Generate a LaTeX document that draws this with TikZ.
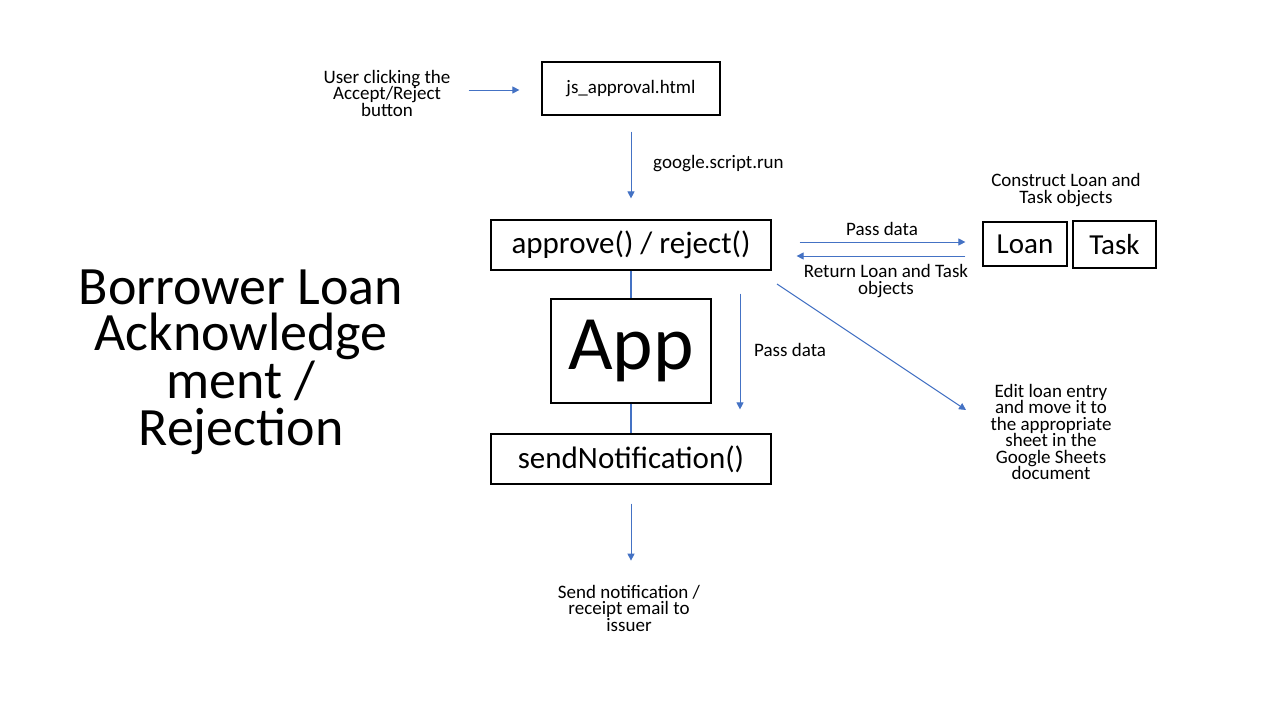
\documentclass[tikz,border=0pt]{standalone}
\usepackage{fontspec}
\setmainfont{Carlito}
\usetikzlibrary{arrows.meta}
\definecolor{conn}{HTML}{4472C4}
\tikzset{
  box/.style={draw=black, line width=1.2pt, inner sep=0pt, align=center},
  lbl/.style={inner sep=0pt, align=center, font=\fontsize{19}{16.5}\selectfont},
  arr/.style={draw=conn, line width=1pt, -{Triangle[width=7pt,length=7pt]}},
  link/.style={draw=conn, line width=2pt},
}
\begin{document}
\begin{tikzpicture}[x=1pt,y=-1pt]
\useasboundingbox (0,0) rectangle (1280,720);
\fill[white] (0,0) rectangle (1280,720);

% title
\node[inner sep=0pt, align=center, font=\fontsize{54}{46.7}\selectfont] (title) at (241,362)
  {Borrower Loan\\Acknowledge\\ment /\\Rejection};

% boxes
\node[box, minimum width=178pt, minimum height=53pt, font=\fontsize{19}{22}\selectfont] (js) at (631,88.5) {js\_approval.html};
\node[box, minimum width=280pt, minimum height=50pt, font=\fontsize{31}{36}\selectfont] (ar) at (631,245) {approve() / reject()};
\node[box, minimum width=160pt, minimum height=104pt, font=\fontsize{77}{80}\selectfont] (app) at (631,351) {App};
\node[box, minimum width=280pt, minimum height=50pt, font=\fontsize{31}{36}\selectfont] (sn) at (631,459) {sendNotification()};
\node[box, minimum width=84pt, minimum height=44pt, font=\fontsize{29}{34}\selectfont] (loan) at (1025,244) {Loan};
\node[box, minimum width=83pt, minimum height=47pt, font=\fontsize{29}{34}\selectfont] (task) at (1114.5,244.5) {Task};

% labels
\node[lbl] (user) at (387,93) {User clicking the\\Accept/Reject\\button};
\node[lbl, anchor=west] (gsr) at (653,164) {google.script.run};
\node[lbl, anchor=west] (pd2) at (754,350) {Pass data};
\node[lbl] (pd1) at (882,229) {Pass data};
\node[lbl] (ret) at (886,281) {Return Loan and Task\\objects};
\node[lbl] (cons) at (1066,190) {Construct Loan and\\Task objects};
\node[lbl] (edit) at (1051,432) {Edit loan entry\\and move it to\\the appropriate\\sheet in the\\Google Sheets\\document};
\node[lbl] (send) at (629,608) {Send notification /\\receipt email to\\issuer};

\coordinate (d1) at (777,284);
\coordinate (d2) at (966,410);

% connectors
\draw[arr] ([xshift=18pt]user.east |- 0,90) -- ([xshift=-22pt]js.west |- 0,90);
\draw[arr, shorten <=16pt, shorten >=21pt] (js.south) -- (ar.north);
\draw[link] (ar.south) -- (app.north);
\draw[link] (app.south) -- (sn.north);
\draw[arr, shorten <=23pt, shorten >=24pt] ([xshift=109pt]ar.south) -- ([xshift=109pt]sn.north);
\draw[arr, shorten <=28pt, shorten >=17pt] ([yshift=3pt]ar.east) -- ([yshift=2pt]loan.west);
\draw[arr, shorten <=17pt, shorten >=25pt] ([yshift=-12pt]loan.west) -- ([yshift=-11pt]ar.east);
\draw[arr] (d1) -- (d2);
\draw[arr, shorten <=19pt, shorten >=24pt] (sn.south) -- (sn.south |- send.north);
\end{tikzpicture}
\end{document}
